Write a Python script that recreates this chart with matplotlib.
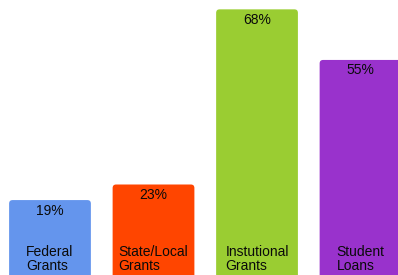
import matplotlib.pyplot as plt
from matplotlib.patches import FancyBboxPatch

categories = ["Federal\nGrants", "State/Local\nGrants", "Instutional\nGrants", "Student\nLoans"]
values = [19, 23, 68, 55]
colors = ["#6495ED", "#FF4500", "#9ACD32", "#9932CC"]

plt.rcParams['font.family'] = ['Liberation Sans', 'DejaVu Sans']

fig = plt.figure(figsize=(3.98, 2.75), dpi=100)
ax = fig.add_axes([0, 0, 1, 1])
ax.set_xlim(-0.483, 3.362)
ax.set_ylim(-0.25, 70.4)
ax.axis('off')

x = list(range(len(values)))
bars = ax.bar(x, values, width=0.79, color=colors)

# px per data unit, for rounded corners
px_x = 398 / (3.362 + 0.483)
px_y = 275 / (70.4 + 0.25)
r = 3.5 / px_x
for b, c in zip(bars, colors):
    b.set_visible(False)
    p = FancyBboxPatch((b.get_x(), b.get_y() - 5), b.get_width(), b.get_height() + 5,
                       boxstyle="round,pad=0,rounding_size=%f" % r,
                       mutation_aspect=px_x / px_y, fc=c, ec='none')
    ax.add_patch(p)

for xi, v, lab in zip(x, values, categories):
    ax.annotate("%d%%" % v, (xi, v), xytext=(0, -2.5), textcoords='offset points',
                ha='center', va='top', fontsize=10, color='#0a0a0a')
    ax.annotate(lab, (xi, 0), xytext=(0, 0.5), textcoords='offset points',
                ha='center', va='bottom', multialignment='left',
                fontsize=10, linespacing=1.0, color='#0a0a0a')

fig.savefig("out.png", dpi=100)
